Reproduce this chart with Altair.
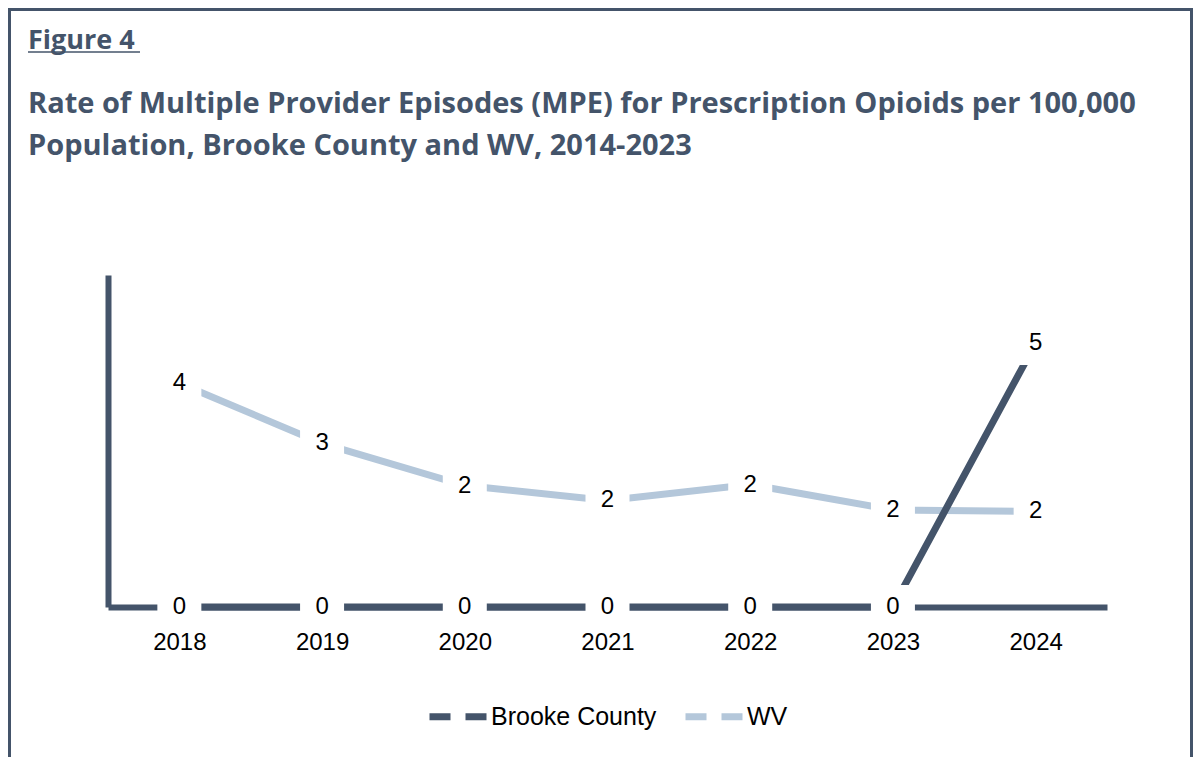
import altair as alt
import pandas as pd

years = ["2018", "2019", "2020", "2021", "2022", "2023", "2024"]
brooke = [0, 0, 0, 0, 0, 0, 5.0]
wv = [4.24, 3.1, 2.3, 2.02, 2.32, 1.84, 1.81]
series = ["Brooke County", "WV"]
colors = ["#44546A", "#B4C7DA"]

fig_label = "Figure 4"
title_lines = [
    "Rate of Multiple Provider Episodes (MPE) for Prescription Opioids per 100,000",
    "Population, Brooke County and WV, 2014-2023",
]

rows = []
for s, vals in zip(series, [brooke, wv]):
    for y, v in zip(years, vals):
        rows.append({"Year": y, "Series": s, "Rate": v})
df = pd.DataFrame(rows)

SLATE = "#44546A"
W, H = 999, 332
LF = 24

x_enc = alt.X("Year:N", sort=years,
              scale=alt.Scale(type="point", padding=0.5),
              axis=alt.Axis(title=None, ticks=False, labelAngle=0, labelFontSize=LF,
                            labelFont="Liberation Sans", labelColor="#000000",
                            labelPadding=23, domainColor=SLATE, domainWidth=6,
                            grid=False))
y_enc = alt.Y("Rate:Q", scale=alt.Scale(domain=[0, 6.29], nice=False, zero=True),
              axis=alt.Axis(title=None, ticks=False, labels=False, grid=False,
                            domainColor=SLATE, domainWidth=6))

base = alt.Chart(df)

wv_line = base.transform_filter(alt.datum.Series == "WV").mark_line(
    strokeWidth=7, strokeCap="butt").encode(
    x=x_enc, y=y_enc,
    color=alt.Color("Series:N", scale=alt.Scale(domain=series, range=colors),
                    legend=alt.Legend(title=None, orient="none", direction="horizontal",
                                      legendX=318, legendY=409,
                                      symbolType="stroke", symbolSize=3364,
                                      symbolStrokeWidth=7, symbolDash=[21, 15],
                                      labelFontSize=25, labelFont="Liberation Sans",
                                      labelColor="#000000", labelOffset=0,
                                      labelLimit=400, columnPadding=14)))
br_line = base.transform_filter(alt.datum.Series == "Brooke County").mark_line(
    strokeWidth=7, strokeCap="butt").encode(
    x=x_enc, y=y_enc,
    color=alt.Color("Series:N", scale=alt.Scale(domain=series, range=colors)))

knock = base.mark_square(size=44 * 44, color="white", opacity=1, filled=True).encode(
    x=x_enc, y=y_enc)

labels = base.mark_text(fontSize=LF, font="Liberation Sans", color="#000000",
                        baseline="middle", align="center").encode(
    x=x_enc, y=y_enc, text=alt.Text("Rate:Q", format=".0f"))

one = alt.Data(values=[{"a": 1}])

frame = alt.Chart(one).mark_rect(fillOpacity=0, stroke=SLATE, strokeWidth=3, clip=False).encode(
    x=alt.value(-98.5), x2=alt.value(1083.5), y=alt.value(-265.5), y2=alt.value(600))

TF = "Open Sans"
fig_text = alt.Chart(one).mark_text(text=fig_label, font=TF, fontWeight="bold",
                                   fontSize=27, color=SLATE, align="left",
                                   baseline="alphabetic").encode(
    x=alt.value(-80), y=alt.value(-226))
underline = alt.Chart(one).mark_rule(color=SLATE, strokeWidth=1.6).encode(
    x=alt.value(-80), x2=alt.value(32), y=alt.value(-223))
t1 = alt.Chart(one).mark_text(text=title_lines[0], font=TF, fontWeight="bold",
                             fontSize=29, color=SLATE, align="left",
                             baseline="alphabetic").encode(
    x=alt.value(-80), y=alt.value(-162))
t2 = alt.Chart(one).mark_text(text=title_lines[1], font=TF, fontWeight="bold",
                             fontSize=29, color=SLATE, align="left",
                             baseline="alphabetic").encode(
    x=alt.value(-80), y=alt.value(-120))

chart = alt.layer(frame, fig_text, underline, t1, t2, wv_line, br_line, knock, labels).properties(
    width=W, height=H,
    autosize=alt.AutoSizeParams(type="none"),
    padding={"left": 100, "top": 267, "right": 86, "bottom": 150},
    background="white",
).configure_view(strokeWidth=0, stroke=None)

chart.save("out.html", embed_options={"renderer": "svg", "actions": False})
